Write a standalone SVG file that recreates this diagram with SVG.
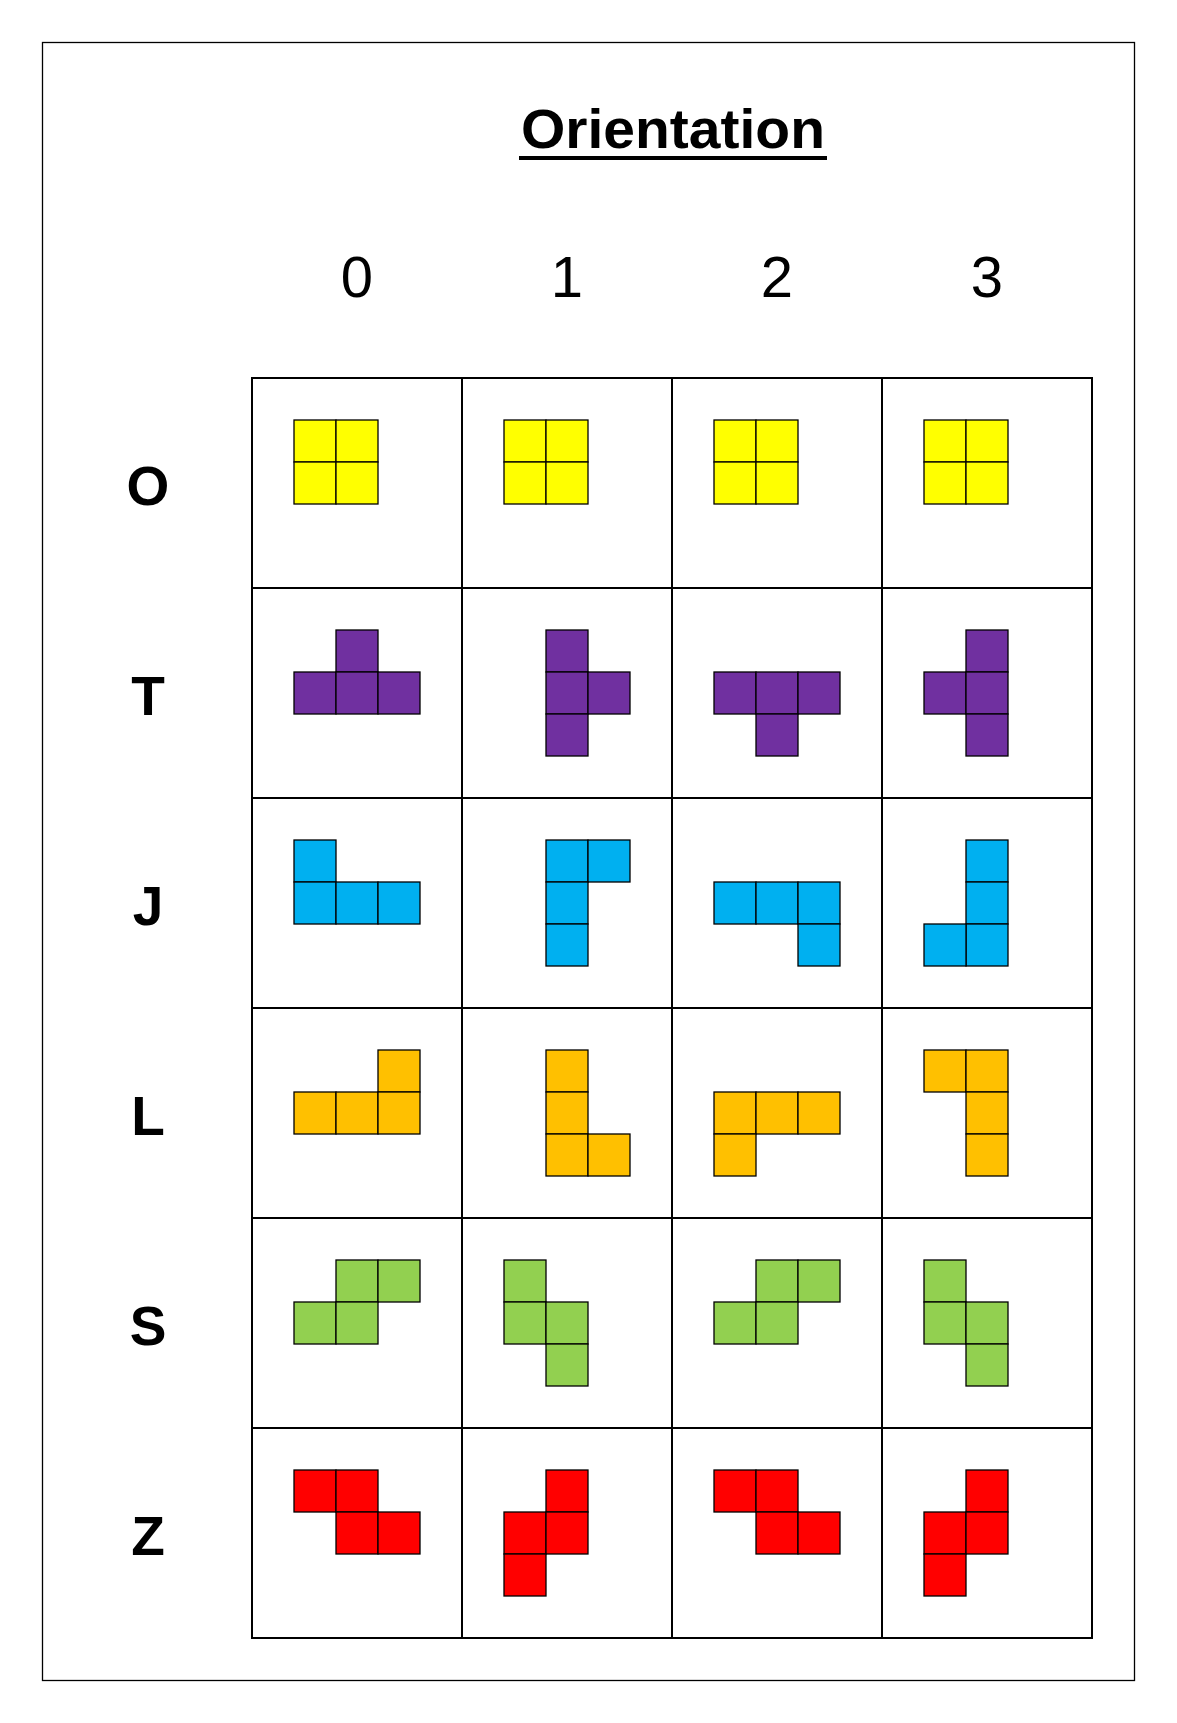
<svg xmlns="http://www.w3.org/2000/svg" width="1177" height="1723" viewBox="0 0 1177 1723">
<style>
.frame{fill:#fff;stroke:#000;stroke-width:1.3}
.grid{fill:none;stroke:#000;stroke-width:2}
.sq rect{stroke:#000;stroke-width:1.3;width:42px;height:42px}
.o rect{fill:#FFFF00}
.t rect{fill:#7030A0}
.j rect{fill:#00B0F0}
.l rect{fill:#FFC000}
.s rect{fill:#92D050}
.z rect{fill:#FF0000}
.lbl{font-family:"Liberation Sans",Arial,sans-serif;font-weight:bold;font-size:55px;text-anchor:middle;fill:#000}
.num{font-family:"Liberation Sans",Arial,sans-serif;font-size:58px;text-anchor:middle;fill:#000}
.title{font-family:"Liberation Sans",Arial,sans-serif;font-weight:bold;font-size:56px;fill:#000}
</style>
<rect width="1177" height="1723" fill="#fff"/>
<rect class="frame" x="42.5" y="42.5" width="1092" height="1638"/>
<g id="title">
<text class="title" x="521" y="148" textLength="304" lengthAdjust="spacingAndGlyphs">Orientation</text>
<rect x="519" y="156" width="308" height="4" fill="#000"/>
</g>
<g id="col-headers">
<text class="num" x="357" y="297">0</text>
<text class="num" x="567" y="297">1</text>
<text class="num" x="777" y="297">2</text>
<text class="num" x="987" y="297">3</text>
</g>
<g id="row-labels">
<text class="lbl" x="148" y="505">O</text>
<text class="lbl" x="148" y="715">T</text>
<text class="lbl" x="148" y="925">J</text>
<text class="lbl" x="148" y="1135">L</text>
<text class="lbl" x="148" y="1345">S</text>
<text class="lbl" x="148" y="1555">Z</text>
</g>
<g id="grid" class="grid">
<rect x="252" y="378" width="840" height="1260"/>
<path d="M462 378V1638M672 378V1638M882 378V1638M252 588H1092M252 798H1092M252 1008H1092M252 1218H1092M252 1428H1092"/>
</g>
<g id="O-0" class="sq o"><rect x="294" y="420" width="42" height="42"/><rect x="336" y="420" width="42" height="42"/><rect x="294" y="462" width="42" height="42"/><rect x="336" y="462" width="42" height="42"/></g>
<g id="O-1" class="sq o"><rect x="504" y="420" width="42" height="42"/><rect x="546" y="420" width="42" height="42"/><rect x="504" y="462" width="42" height="42"/><rect x="546" y="462" width="42" height="42"/></g>
<g id="O-2" class="sq o"><rect x="714" y="420" width="42" height="42"/><rect x="756" y="420" width="42" height="42"/><rect x="714" y="462" width="42" height="42"/><rect x="756" y="462" width="42" height="42"/></g>
<g id="O-3" class="sq o"><rect x="924" y="420" width="42" height="42"/><rect x="966" y="420" width="42" height="42"/><rect x="924" y="462" width="42" height="42"/><rect x="966" y="462" width="42" height="42"/></g>
<g id="T-0" class="sq t"><rect x="336" y="630" width="42" height="42"/><rect x="294" y="672" width="42" height="42"/><rect x="336" y="672" width="42" height="42"/><rect x="378" y="672" width="42" height="42"/></g>
<g id="T-1" class="sq t"><rect x="546" y="630" width="42" height="42"/><rect x="546" y="672" width="42" height="42"/><rect x="588" y="672" width="42" height="42"/><rect x="546" y="714" width="42" height="42"/></g>
<g id="T-2" class="sq t"><rect x="714" y="672" width="42" height="42"/><rect x="756" y="672" width="42" height="42"/><rect x="798" y="672" width="42" height="42"/><rect x="756" y="714" width="42" height="42"/></g>
<g id="T-3" class="sq t"><rect x="966" y="630" width="42" height="42"/><rect x="924" y="672" width="42" height="42"/><rect x="966" y="672" width="42" height="42"/><rect x="966" y="714" width="42" height="42"/></g>
<g id="J-0" class="sq j"><rect x="294" y="840" width="42" height="42"/><rect x="294" y="882" width="42" height="42"/><rect x="336" y="882" width="42" height="42"/><rect x="378" y="882" width="42" height="42"/></g>
<g id="J-1" class="sq j"><rect x="546" y="840" width="42" height="42"/><rect x="588" y="840" width="42" height="42"/><rect x="546" y="882" width="42" height="42"/><rect x="546" y="924" width="42" height="42"/></g>
<g id="J-2" class="sq j"><rect x="714" y="882" width="42" height="42"/><rect x="756" y="882" width="42" height="42"/><rect x="798" y="882" width="42" height="42"/><rect x="798" y="924" width="42" height="42"/></g>
<g id="J-3" class="sq j"><rect x="966" y="840" width="42" height="42"/><rect x="966" y="882" width="42" height="42"/><rect x="966" y="924" width="42" height="42"/><rect x="924" y="924" width="42" height="42"/></g>
<g id="L-0" class="sq l"><rect x="378" y="1050" width="42" height="42"/><rect x="294" y="1092" width="42" height="42"/><rect x="336" y="1092" width="42" height="42"/><rect x="378" y="1092" width="42" height="42"/></g>
<g id="L-1" class="sq l"><rect x="546" y="1050" width="42" height="42"/><rect x="546" y="1092" width="42" height="42"/><rect x="546" y="1134" width="42" height="42"/><rect x="588" y="1134" width="42" height="42"/></g>
<g id="L-2" class="sq l"><rect x="714" y="1092" width="42" height="42"/><rect x="756" y="1092" width="42" height="42"/><rect x="798" y="1092" width="42" height="42"/><rect x="714" y="1134" width="42" height="42"/></g>
<g id="L-3" class="sq l"><rect x="924" y="1050" width="42" height="42"/><rect x="966" y="1050" width="42" height="42"/><rect x="966" y="1092" width="42" height="42"/><rect x="966" y="1134" width="42" height="42"/></g>
<g id="S-0" class="sq s"><rect x="336" y="1260" width="42" height="42"/><rect x="378" y="1260" width="42" height="42"/><rect x="294" y="1302" width="42" height="42"/><rect x="336" y="1302" width="42" height="42"/></g>
<g id="S-1" class="sq s"><rect x="504" y="1260" width="42" height="42"/><rect x="504" y="1302" width="42" height="42"/><rect x="546" y="1302" width="42" height="42"/><rect x="546" y="1344" width="42" height="42"/></g>
<g id="S-2" class="sq s"><rect x="756" y="1260" width="42" height="42"/><rect x="798" y="1260" width="42" height="42"/><rect x="714" y="1302" width="42" height="42"/><rect x="756" y="1302" width="42" height="42"/></g>
<g id="S-3" class="sq s"><rect x="924" y="1260" width="42" height="42"/><rect x="924" y="1302" width="42" height="42"/><rect x="966" y="1302" width="42" height="42"/><rect x="966" y="1344" width="42" height="42"/></g>
<g id="Z-0" class="sq z"><rect x="294" y="1470" width="42" height="42"/><rect x="336" y="1470" width="42" height="42"/><rect x="336" y="1512" width="42" height="42"/><rect x="378" y="1512" width="42" height="42"/></g>
<g id="Z-1" class="sq z"><rect x="546" y="1470" width="42" height="42"/><rect x="504" y="1512" width="42" height="42"/><rect x="546" y="1512" width="42" height="42"/><rect x="504" y="1554" width="42" height="42"/></g>
<g id="Z-2" class="sq z"><rect x="714" y="1470" width="42" height="42"/><rect x="756" y="1470" width="42" height="42"/><rect x="756" y="1512" width="42" height="42"/><rect x="798" y="1512" width="42" height="42"/></g>
<g id="Z-3" class="sq z"><rect x="966" y="1470" width="42" height="42"/><rect x="924" y="1512" width="42" height="42"/><rect x="966" y="1512" width="42" height="42"/><rect x="924" y="1554" width="42" height="42"/></g>
</svg>
